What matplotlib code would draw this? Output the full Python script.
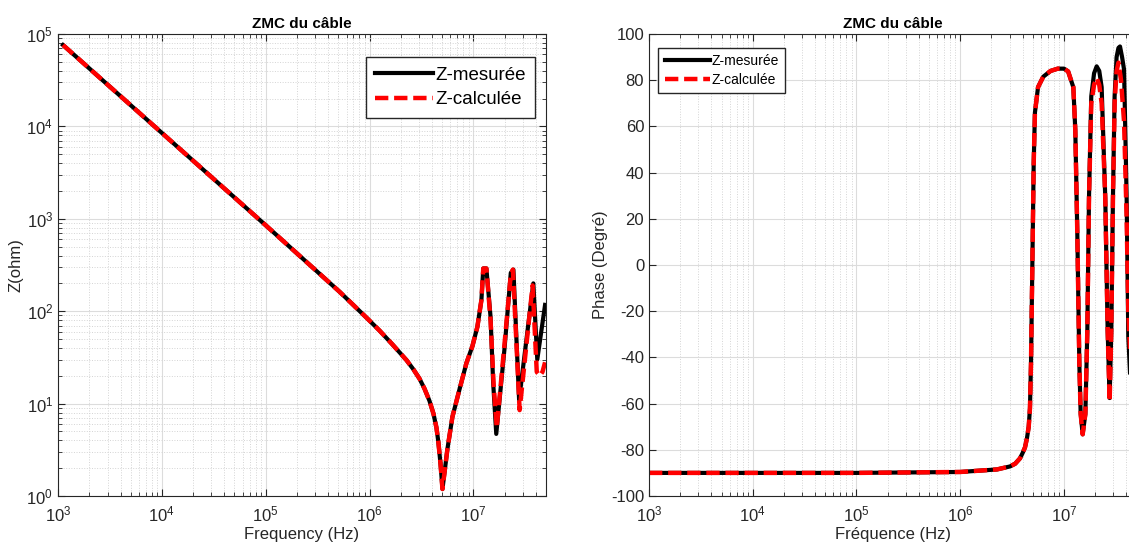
import numpy as np
from matplotlib import pyplot as plt
from matplotlib.ticker import LogLocator, NullFormatter, MultipleLocator

plt.rcParams['font.family'] = ['Liberation Sans', 'DejaVu Sans']
plt.rcParams['axes.unicode_minus'] = False

# --- module |Z| (ohm) (frequencies as log10(Hz))
logf_mag_mes = [3.048, 4.0, 5.0, 5.712, 5.971, 6.096, 6.221, 6.356, 6.423, 6.481, 6.529,
                6.577, 6.615, 6.644, 6.663, 6.683, 6.702, 6.75, 6.798, 6.865, 6.933,
                6.99, 7.038, 7.077, 7.095, 7.125, 7.165, 7.19, 7.22, 7.3, 7.36,
                7.385, 7.44, 7.52, 7.577, 7.615, 7.69]
z_mes = [7.6e4, 8.5e3, 851, 162, 85, 61.7, 43.6, 29.5, 23.4, 18.6, 14.5,
         10.7, 7.8, 5.5, 3.8, 2.24, 1.19, 3.24, 7.2, 14.1, 27.5,
         41.7, 67.6, 132, 290, 290, 87, 17, 4.7, 40, 260,
         282, 11, 60, 200, 30, 117]
logf_mag_calc = [3.048, 4.0, 5.0, 5.712, 5.971, 6.096, 6.221, 6.356, 6.423, 6.481, 6.529,
                 6.577, 6.615, 6.644, 6.663, 6.683, 6.702, 6.75, 6.798, 6.865, 6.933,
                 6.99, 7.038, 7.077, 7.095, 7.125, 7.165, 7.195, 7.225, 7.3, 7.36,
                 7.38, 7.445, 7.52, 7.57, 7.61, 7.64, 7.665, 7.69]
z_calc = [7.6e4, 8.5e3, 851, 162, 85, 61.7, 43.6, 29.5, 23.4, 18.6, 14.5,
          10.7, 7.8, 5.5, 3.8, 2.24, 1.19, 3.24, 7.2, 14.1, 27.5,
          41.7, 67.6, 132, 290, 290, 80, 16, 5.5, 45, 250,
          282, 8.5, 55, 190, 22, 20, 22, 28]

# --- phase (degres)
logf_ph_mes = [3.0, 5.0, 6.0, 6.354, 6.48, 6.53, 6.576, 6.6, 6.624, 6.643, 6.66,
               6.672, 6.682, 6.695, 6.708, 6.72, 6.75, 6.80, 6.87, 6.94, 7.0,
               7.04, 7.09, 7.109, 7.128, 7.148, 7.161, 7.18, 7.206, 7.225, 7.241,
               7.263, 7.29, 7.315, 7.34, 7.363, 7.398, 7.421, 7.44, 7.456, 7.472,
               7.488, 7.507, 7.525, 7.54, 7.56, 7.579, 7.604, 7.62, 7.64]
ph_mes = [-90, -90, -89.6, -88.5, -87.2, -86, -83.7, -81.5, -79, -75, -70,
          -62, -42.8, -0.2, 44, 66, 77, 81.5, 84, 85, 85,
          83.8, 77, 58.5, 15, -42.8, -64.5, -73.3, -64.5, -28.5, 29,
          73, 83, 86, 84, 77, 29, -28.5, -57.6, -28.5, 29,
          73, 90, 94, 94.6, 90, 84.6, 29, -31, -50]
logf_ph_calc = [3.0, 5.0, 6.0, 6.354, 6.48, 6.53, 6.576, 6.6, 6.624, 6.643, 6.66,
                6.672, 6.682, 6.695, 6.708, 6.72, 6.75, 6.80, 6.87, 6.94, 7.0,
                7.04, 7.09, 7.109, 7.128, 7.148, 7.161, 7.18, 7.206, 7.225, 7.241,
                7.263, 7.29, 7.315, 7.34, 7.363, 7.398, 7.421, 7.44, 7.456, 7.472,
                7.488, 7.507, 7.525, 7.55, 7.579, 7.604, 7.62, 7.64]
ph_calc = [-90, -90, -89.6, -88.5, -87.2, -86, -83.7, -81.5, -79, -75, -70,
           -62, -42.8, -0.2, 44, 66, 77, 81.5, 84, 85, 85,
           83.8, 77, 58.5, 15, -42.8, -64.5, -73.3, -64.5, -28.5, 29,
           70, 78, 81, 78, 70, 29, -28.5, -59, -28.5, 29,
           70, 84, 87.6, 80, 62, 20, -20, -40]

f_mag_mes = 10.0 ** np.array(logf_mag_mes)
f_mag_calc = 10.0 ** np.array(logf_mag_calc)
f_ph_mes = 10.0 ** np.array(logf_ph_mes)
f_ph_calc = 10.0 ** np.array(logf_ph_calc)

ink = '#262626'
fig = plt.figure(figsize=(11.29, 5.6), dpi=100)
ax1 = fig.add_axes([58 / 1129, 64 / 560, 488 / 1129, 462 / 560])
ax2 = fig.add_axes([649 / 1129, 64 / 560, 487.5 / 1129, 462 / 560])

ax1.loglog(f_mag_mes, z_mes, color='k', lw=3, label='Z-mesurée')
ax1.loglog(f_mag_calc, z_calc, color='red', lw=3.2, dashes=(3, 1.3), label='Z-calculée')
ax1.set_xlim(1e3, 5e7)
ax1.set_ylim(1, 1e5)
ax1.set_xlabel('Frequency (Hz)', fontsize=12, color=ink, labelpad=2)
ax1.set_ylabel('Z(ohm)', fontsize=12, color=ink, labelpad=2)
ax1.yaxis.set_major_locator(LogLocator(base=10, numticks=10))
ax1.yaxis.set_minor_locator(LogLocator(base=10, subs=np.arange(2, 10), numticks=20))
ax1.yaxis.set_minor_formatter(NullFormatter())
ax1.legend(loc='upper right', fontsize=13.5, handlelength=3.1, fancybox=False,
           edgecolor=ink, framealpha=1, borderpad=0.5, handletextpad=0.1,
           labelspacing=0.4, bbox_to_anchor=(0.997, 0.97))

ax2.semilogx(f_ph_mes, ph_mes, color='k', lw=3, label='Z-mesurée')
ax2.semilogx(f_ph_calc, ph_calc, color='red', lw=3.2, dashes=(3, 1.3), label='Z-calculée')
ax2.set_xlim(1e3, 5e7)
ax2.set_ylim(-100, 100)
ax2.yaxis.set_major_locator(MultipleLocator(20))
ax2.set_xlabel('Fréquence (Hz)', fontsize=12, color=ink, labelpad=2)
ax2.set_ylabel('Phase (Degré)', fontsize=12, color=ink, labelpad=2)
ax2.legend(loc='upper left', fontsize=10, handlelength=3.3, fancybox=False,
           edgecolor=ink, framealpha=1, borderpad=0.45, handletextpad=0.1,
           labelspacing=0.35, bbox_to_anchor=(0.005, 0.985))

for ax in (ax1, ax2):
    ax.set_title('ZMC du câble', fontsize=11, fontweight='bold', pad=4)
    ax.xaxis.set_major_locator(LogLocator(base=10, numticks=10))
    ax.xaxis.set_minor_locator(LogLocator(base=10, subs=np.arange(2, 10), numticks=20))
    ax.xaxis.set_minor_formatter(NullFormatter())
    ax.grid(True, which='major', color='#dcdcdc', lw=0.8)
    ax.grid(True, which='minor', color='#d4d4d4', lw=0.7, ls=':')
    ax.tick_params(which='both', direction='in', top=True, right=True, colors=ink,
                   labelsize=12)
    ax.tick_params(which='major', length=5)
    ax.tick_params(which='minor', length=3)
    for s in ax.spines.values():
        s.set_color(ink)
    ax.set_axisbelow(True)
ax2.yaxis.grid(False, which='minor')
ax2.tick_params(axis='x', which='major', pad=6)
ax1.tick_params(axis='x', which='major', pad=6)

fig.savefig('out.png', dpi=100)
